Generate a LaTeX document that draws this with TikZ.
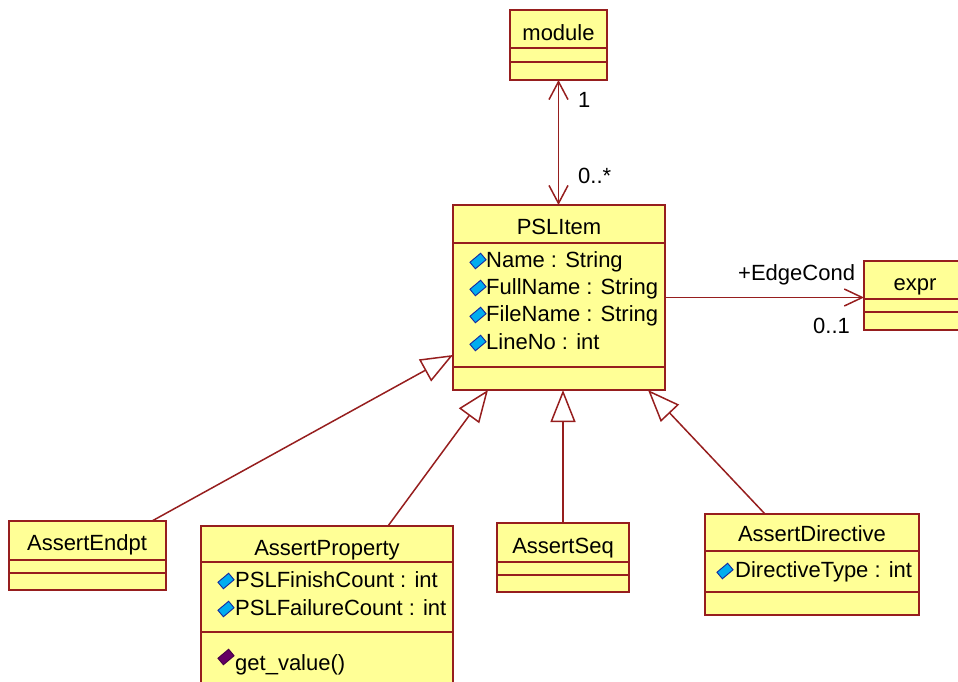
\documentclass[tikz,border=0pt]{standalone}
\usepackage{fontspec}
\setmainfont{Liberation Sans}
\usepackage{tikz}
\usetikzlibrary{arrows.meta}

\definecolor{umlred}{RGB}{150,30,30}
\definecolor{umlfill}{RGB}{255,255,150}
\definecolor{icondark}{RGB}{20,40,160}
\definecolor{opicon}{RGB}{100,0,100}

\begin{document}
\begin{tikzpicture}[x=1pt,y=-1pt,
  class/.style={draw=umlred,fill=umlfill,line width=1.6pt,anchor=north west,inner sep=0pt,outer sep=0pt},
  sep/.style={draw=umlred,line width=1.6pt},
  txt/.style={anchor=base,inner sep=0pt,font=\fontsize{22}{26}\selectfont},
  attr/.style={txt,anchor=base west},
  assoc/.style={draw=umlred,line width=1.5pt},
  nav/.style={assoc,{Straight Barb[length=18pt,width=19pt]}-{Straight Barb[length=18pt,width=19pt]}},
  navend/.style={assoc,-{Straight Barb[length=18pt,width=17pt]}},
  gen/.style={assoc,-{Triangle[open,length=32pt,width=25pt]}},
  attricon/.style={draw=icondark,fill=cyan,line width=0.9pt,minimum width=14pt,minimum height=8.5pt,inner sep=0pt,rotate=40},
  opicn/.style={attricon,draw=opicon!70!black,fill=opicon}]

  \useasboundingbox (0,0) rectangle (958,681);

  % classes
  \node[class,minimum width=97pt,minimum height=70pt] (module) at (510,10) {};
  \draw[sep] ([yshift=-38pt]module.north west) -- ([yshift=-38pt]module.north east);
  \draw[sep] ([yshift=-52pt]module.north west) -- ([yshift=-52pt]module.north east);
  \node[txt] (moduleT) at (558.5,40) {module};

  \node[class,minimum width=212pt,minimum height=185pt] (psl) at (453,205) {};
  \draw[sep] ([yshift=-38pt]psl.north west) -- ([yshift=-38pt]psl.north east);
  \draw[sep] ([yshift=-162pt]psl.north west) -- ([yshift=-162pt]psl.north east);
  \node[txt] (pslT) at (559,234) {PSLItem};
  \node[attricon] (pslI1) at (478,261) {};
  \node[attr] (pslA1) at (486,267) {Name : String};
  \node[attricon] (pslI2) at (478,288) {};
  \node[attr] (pslA2) at (486,294) {FullName : String};
  \node[attricon] (pslI3) at (478,315) {};
  \node[attr] (pslA3) at (486,321) {FileName : String};
  \node[attricon] (pslI4) at (478,343) {};
  \node[attr] (pslA4) at (486,349) {LineNo : int};

  \node[class,minimum width=102pt,minimum height=69pt] (expr) at (864,261) {};
  \draw[sep] ([yshift=-38pt]expr.north west) -- ([yshift=-38pt]expr.north east);
  \draw[sep] ([yshift=-51pt]expr.north west) -- ([yshift=-51pt]expr.north east);
  \node[txt] (exprT) at (915,290) {expr};

  \node[class,minimum width=157pt,minimum height=69pt] (endpt) at (9,521) {};
  \draw[sep] ([yshift=-39pt]endpt.north west) -- ([yshift=-39pt]endpt.north east);
  \draw[sep] ([yshift=-52pt]endpt.north west) -- ([yshift=-52pt]endpt.north east);
  \node[txt] (endptT) at (87,550) {AssertEndpt};

  \node[class,minimum width=252pt,minimum height=170pt] (prop) at (201,526) {};
  \draw[sep] ([yshift=-36pt]prop.north west) -- ([yshift=-36pt]prop.north east);
  \draw[sep] ([yshift=-106pt]prop.north west) -- ([yshift=-106pt]prop.north east);
  \node[txt] (propT) at (327,555) {AssertProperty};
  \node[attricon] (propI1) at (226,581) {};
  \node[attr] (propA1) at (235,587) {PSLFinishCount : int};
  \node[attricon] (propI2) at (226,609) {};
  \node[attr] (propA2) at (235,615) {PSLFailureCount : int};
  \node[opicn] (propO1) at (226,657) {};
  \node[attr] (propM1) at (235,670) {get\_value()};

  \node[class,minimum width=132pt,minimum height=69pt] (seq) at (497,523) {};
  \draw[sep] ([yshift=-39pt]seq.north west) -- ([yshift=-39pt]seq.north east);
  \draw[sep] ([yshift=-52pt]seq.north west) -- ([yshift=-52pt]seq.north east);
  \node[txt] (seqT) at (563,553) {AssertSeq};

  \node[class,minimum width=214pt,minimum height=101pt] (dir) at (705,514) {};
  \draw[sep] ([yshift=-37pt]dir.north west) -- ([yshift=-37pt]dir.north east);
  \draw[sep] ([yshift=-78pt]dir.north west) -- ([yshift=-78pt]dir.north east);
  \node[txt] (dirT) at (812,541) {AssertDirective};
  \node[attricon] (dirI1) at (725,571) {};
  \node[attr] (dirA1) at (735,577) {DirectiveType : int};

  % associations
  \draw[nav] (module.south) -- (module.south |- psl.north);
  \node[attr] (modMult) at (578,107) {1};
  \node[attr] (pslMult) at (578,183) {0..*};

  \draw[navend] (psl.east) -- (psl.east -| expr.west);
  \node[attr] (edgeRole) at (738,280) {+EdgeCond};
  \node[attr] (exprMult) at (813,333) {0..1};

  % generalizations
  \draw[gen] ([xshift=-14pt]endpt.north east) -- ([yshift=35pt]psl.south west);
  \draw[gen] ([xshift=-65pt]prop.north east) -- ([xshift=35pt]psl.south west);
  \draw[gen] (seq.north) -- (seq.north |- psl.south);
  \draw[gen] ([xshift=60pt]dir.north west) -- ([xshift=-17pt]psl.south east);

\end{tikzpicture}
\end{document}
